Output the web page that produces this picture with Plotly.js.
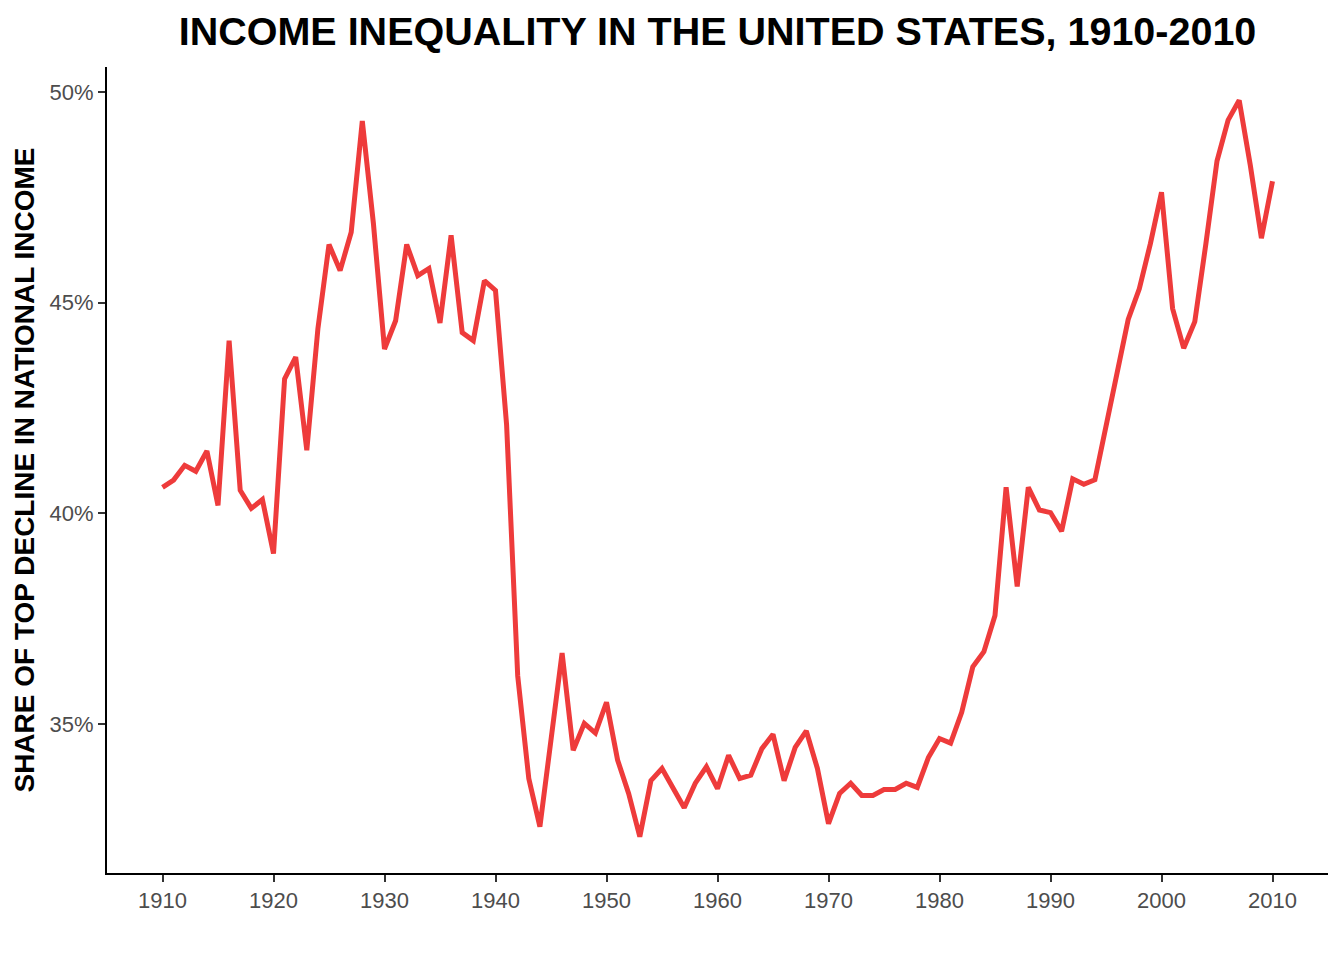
<!DOCTYPE html>
<html>
<head>
<meta charset="utf-8">
<script src="https://cdn.plot.ly/plotly-3.0.1.min.js"></script>
<style>
  html, body { margin: 0; padding: 0; background: #ffffff; }
  #chart { width: 1344px; height: 960px; }
</style>
</head>
<body>
<div id="chart"></div>
<script>
// Top decile share of national income
const years = [];
for (let y = 1910; y <= 2010; y++) years.push(y);

const topShare = [
  40.62, 40.79, 41.14, 41.00, 41.48, 40.19, 44.10, 40.55, 40.12, 40.33, // 1910s
  39.05, 43.19, 43.71, 41.50, 44.38, 46.38, 45.76, 46.67, 49.31, 46.88, // 1920s
  43.90, 44.57, 46.38, 45.64, 45.81, 44.52, 46.60, 44.29, 44.10, 45.52, // 1930s
  45.29, 42.10, 36.15, 33.71, 32.57, 34.62, 36.69, 34.38, 35.02, 34.79, // 1940s
  35.52, 34.15, 33.35, 32.33, 33.66, 33.95, 33.48, 33.02, 33.60, 33.99, // 1950s
  33.47, 34.26, 33.71, 33.79, 34.42, 34.76, 33.66, 34.45, 34.84, 33.95, // 1960s
  32.64, 33.36, 33.60, 33.31, 33.31, 33.45, 33.45, 33.60, 33.50, 34.21, // 1970s
  34.66, 34.55, 35.28, 36.36, 36.72, 37.58, 40.62, 38.27, 40.62, 40.08, // 1980s
  40.02, 39.58, 40.82, 40.69, 40.80, 42.10, 43.43, 44.60, 45.33, 46.40, // 1990s
  47.62, 44.86, 43.92, 44.55, 46.40, 48.36, 49.33, 49.80, 48.26, 46.53, // 2000s
  47.88
];

const yTickVals = [35, 40, 45, 50];
const yTickText = ['35%', '40%', '45%', '50%'];
const xTickVals = [1910, 1920, 1930, 1940, 1950, 1960, 1970, 1980, 1990, 2000, 2010];

const LINE_RED = '#EE3B3B';
const FONT = 'Arial, "Liberation Sans", sans-serif';

const data = [{
  x: years,
  y: topShare,
  type: 'scatter',
  mode: 'lines',
  line: { color: LINE_RED, width: 5 },
  hoverinfo: 'x+y'
}];

const layout = {
  width: 1344,
  height: 960,
  margin: { l: 107, r: 16, t: 67, b: 87 },
  paper_bgcolor: 'white',
  plot_bgcolor: 'white',
  showlegend: false,
  font: { family: FONT, color: '#4D4D4D' },
  title: {
    text: '<b>INCOME INEQUALITY IN THE UNITED STATES, 1910-2010</b>',
    font: { size: 39.5, color: '#000000', family: FONT },
    x: 0.5,
    xref: 'paper',
    xanchor: 'center',
    y: 1 - 31 / 960,
    yanchor: 'middle'
  },
  xaxis: {
    range: [1905, 2015],
    tickvals: xTickVals,
    ticktext: xTickVals.map(String),
    showgrid: false,
    zeroline: false,
    showline: true,
    linecolor: '#000000',
    linewidth: 2,
    ticks: 'outside',
    ticklen: 7,
    tickwidth: 2,
    tickcolor: '#333333',
    tickfont: { size: 22, color: '#4D4D4D', family: FONT }
  },
  yaxis: {
    range: [31.47, 50.59],
    tickvals: yTickVals,
    ticktext: yTickText,
    showgrid: false,
    zeroline: false,
    showline: true,
    linecolor: '#000000',
    linewidth: 2,
    ticks: 'outside',
    ticklen: 7,
    tickwidth: 2,
    tickcolor: '#333333',
    tickfont: { size: 22, color: '#4D4D4D', family: FONT },
    title: {
      text: '<b>SHARE OF TOP DECLINE IN NATIONAL INCOME</b>',
      font: { size: 28, color: '#000000', family: FONT },
      standoff: 7
    }
  }
};

Plotly.newPlot('chart', data, layout, { displayModeBar: false, staticPlot: true });
</script>
</body>
</html>
